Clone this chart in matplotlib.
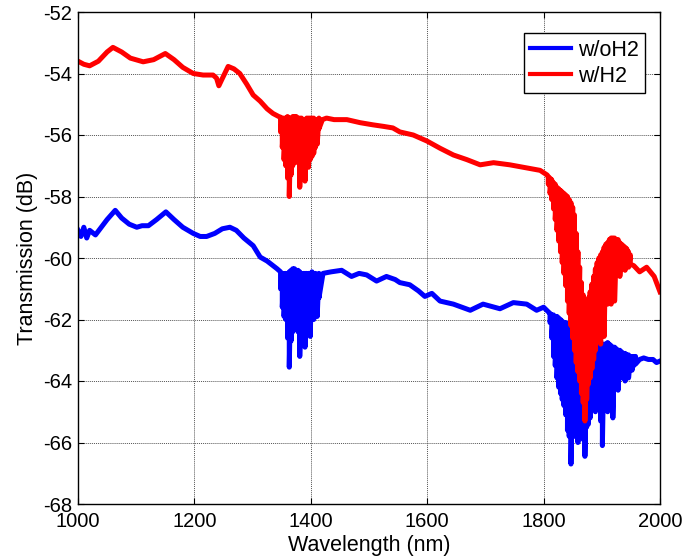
"""Transmission spectra with / without H2 loading."""

import matplotlib

matplotlib.use("Agg")
import matplotlib.pyplot as plt
import numpy as np

plt.rcParams["font.family"] = ["Liberation Sans", "DejaVu Sans"]
plt.rcParams["axes.unicode_minus"] = False

# --- w/oH2 (blue): smooth parts of the trace ---
blue_wl = [1000, 1005, 1010, 1015, 1020, 1030, 1040, 1050, 1064, 1075, 1088, 1101,
           1110, 1121, 1135, 1151, 1165, 1180, 1198, 1210, 1221, 1235, 1248, 1261,
           1272, 1285, 1301, 1313, 1325, 1342,
           1421, 1435, 1453, 1470, 1483, 1496, 1513, 1530, 1545, 1553, 1570, 1585,
           1596, 1608, 1622, 1645, 1674, 1696, 1725, 1748, 1771, 1788, 1800, 1808,
           1965, 1972, 1980, 1988, 1994, 2000]
blue_db = [-59.1, -59.3, -59.0, -59.35, -59.1, -59.25, -59.0, -58.75, -58.45, -58.7, -58.9, -59.0,
           -58.95, -58.95, -58.75, -58.5, -58.75, -59.0, -59.2, -59.3, -59.3, -59.2, -59.05, -59.0,
           -59.1, -59.35, -59.6, -59.97, -60.1, -60.35,
           -60.5, -60.45, -60.4, -60.6, -60.5, -60.55, -60.75, -60.6, -60.7, -60.8, -60.87, -61.07,
           -61.25, -61.15, -61.4, -61.5, -61.7, -61.5, -61.65, -61.45, -61.5, -61.7, -61.6, -61.75,
           -63.3, -63.25, -63.3, -63.3, -63.4, -63.35]

# blue absorption band near 1380 nm: wavelength, top and bottom of the oscillation
blue_band1_wl = [1348, 1351, 1354, 1357, 1360, 1363, 1366, 1369, 1372, 1375, 1378, 1381,
                 1384, 1387, 1390, 1393, 1396, 1399, 1402, 1405, 1408, 1411, 1414]
blue_band1_top = [-60.45, -60.5, -60.5, -60.5, -60.5, -60.45, -60.4, -60.35, -60.35, -60.4,
                  -60.4, -60.45, -60.5, -60.5, -60.5, -60.5, -60.5, -60.5, -60.45, -60.5,
                  -60.5, -60.55, -60.5]
blue_band1_bot = [-61.0, -61.6, -61.9, -62.0, -62.6, -63.55, -62.7, -62.4, -62.3, -62.1,
                  -62.4, -63.2, -62.1, -62.2, -62.9, -62.0, -62.3, -62.55, -61.95, -62.0,
                  -61.9, -61.9, -61.3]

# blue absorption band near 1870 nm
blue_band2_wl = [1811, 1814, 1817, 1820, 1823, 1826, 1829, 1832, 1835, 1838, 1841, 1844,
                 1847, 1850, 1853, 1856, 1859, 1862, 1865, 1868, 1871, 1874, 1877, 1880,
                 1883, 1886, 1889, 1892, 1895, 1898, 1901, 1904, 1907, 1910, 1913, 1916,
                 1919, 1922, 1925, 1928, 1931, 1934, 1937, 1940, 1943, 1946, 1949, 1952,
                 1955, 1958]
blue_band2_top = [-61.8, -61.85, -61.85, -61.9, -61.9, -61.95, -62.0, -62.05, -62.1, -62.1,
                  -62.15, -62.2, -62.2, -62.25, -62.3, -62.35, -62.4, -62.45, -62.5, -62.6,
                  -62.6, -62.65, -62.7, -62.75, -62.75, -62.8, -62.8, -62.8, -62.8, -62.8,
                  -62.8, -62.8, -62.8, -62.75, -62.8, -62.85, -62.9, -62.9, -62.95, -63.0,
                  -63.0, -63.05, -63.1, -63.1, -63.15, -63.15, -63.2, -63.2, -63.2, -63.2]
blue_band2_bot = [-62.1, -62.6, -63.2, -63.5, -63.9, -64.2, -64.4, -64.6, -64.8, -65.1,
                  -65.6, -65.8, -66.7, -65.6, -65.8, -65.7, -66.0, -65.5, -65.6, -65.9,
                  -66.45, -65.5, -65.4, -65.2, -64.6, -64.9, -65.0, -64.5, -64.8, -65.3,
                  -66.1, -64.6, -64.9, -65.0, -64.3, -64.7, -65.2, -64.2, -64.1, -64.3,
                  -63.9, -63.9, -63.7, -64.0, -63.6, -63.9, -63.6, -63.65, -63.5, -63.45]

# --- w/H2 (red): smooth parts of the trace ---
red_wl = [1000, 1010, 1020, 1035, 1050, 1060, 1075, 1090, 1112, 1130, 1150, 1165,
          1180, 1198, 1215, 1232, 1238, 1242, 1247, 1258, 1268, 1278, 1290, 1301,
          1313, 1325, 1335, 1345,
          1420, 1427, 1440, 1462, 1485, 1507, 1525, 1541, 1553, 1576, 1600, 1622,
          1645, 1668, 1691, 1714, 1742, 1771, 1794, 1806,
          1955, 1965, 1977, 1990, 2000]
red_db = [-53.6, -53.7, -53.75, -53.6, -53.3, -53.15, -53.3, -53.5, -53.62, -53.55, -53.35, -53.55,
          -53.8, -54.0, -54.05, -54.05, -54.15, -54.4, -54.2, -53.77, -53.85, -54.0, -54.35, -54.7,
          -54.9, -55.15, -55.3, -55.4,
          -55.5, -55.45, -55.5, -55.5, -55.6, -55.67, -55.72, -55.77, -55.9, -56.0, -56.2, -56.43,
          -56.65, -56.8, -56.97, -56.9, -56.97, -57.07, -57.15, -57.3,
          -60.25, -60.45, -60.3, -60.6, -61.1]

# red absorption band near 1380 nm
red_band1_wl = [1348, 1351, 1354, 1357, 1360, 1363, 1366, 1369, 1372, 1375, 1378, 1381,
                1384, 1387, 1390, 1393, 1396, 1399, 1402, 1405, 1408, 1411, 1414]
red_band1_top = [-55.42, -55.45, -55.45, -55.45, -55.4, -55.45, -55.45, -55.4, -55.4, -55.4,
                 -55.45, -55.45, -55.45, -55.5, -55.5, -55.45, -55.45, -55.45, -55.45, -55.45,
                 -55.5, -55.5, -55.45]
red_band1_bot = [-55.9, -56.4, -56.8, -57.0, -57.4, -58.0, -57.3, -57.0, -56.9, -56.8,
                 -56.9, -57.7, -56.9, -57.0, -57.5, -56.9, -57.05, -56.8, -56.7, -56.6,
                 -56.4, -56.3, -55.8]

# red absorption band near 1870 nm
red_band2_wl = [1808, 1811, 1814, 1817, 1820, 1823, 1826, 1829, 1832, 1835, 1838, 1841,
                1844, 1847, 1850, 1853, 1856, 1859, 1862, 1865, 1868, 1871, 1874, 1877,
                1880, 1883, 1886, 1889, 1892, 1895, 1898, 1901, 1904, 1907, 1910, 1913,
                1916, 1919, 1922, 1925, 1928, 1931, 1934, 1937, 1940, 1943, 1946, 1949]
red_band2_top = [-57.35, -57.4, -57.45, -57.55, -57.6, -57.7, -57.75, -57.8, -57.85, -57.9,
                 -57.95, -58.0, -58.1, -58.2, -58.35, -58.6, -59.2, -59.8, -60.3, -60.8,
                 -61.2, -61.45, -61.5, -61.3, -61.1, -60.85, -60.6, -60.35, -60.15, -60.0,
                 -59.9, -59.8, -59.65, -59.55, -59.5, -59.4, -59.35, -59.35, -59.35, -59.4,
                 -59.4, -59.5, -59.55, -59.6, -59.65, -59.7, -59.8, -59.9]
red_band2_bot = [-57.6, -57.9, -58.1, -58.4, -58.75, -59.1, -59.45, -59.8, -60.15, -60.5,
                 -60.9, -61.4, -61.8, -62.2, -62.6, -63.0, -63.4, -63.7, -64.0, -64.4,
                 -64.7, -65.3, -64.6, -64.1, -63.9, -63.6, -63.3, -63.0, -62.5, -61.9,
                 -62.8, -61.7, -62.55, -61.3, -61.5, -60.9, -61.5, -60.6, -61.4, -60.4,
                 -60.3, -60.6, -60.3, -60.1, -60.4, -60.2, -60.3, -60.2]

x_ticks = [1000, 1200, 1400, 1600, 1800, 2000]
y_ticks = [-68, -66, -64, -62, -60, -58, -56, -54, -52]


def trace(base_wl, base_db, bands):
    """Merge smooth points and band strokes (top then bottom) into one line."""
    xs = list(base_wl)
    ys = list(base_db)
    for wl, top, bot in bands:
        for w, t, b in zip(wl, top, bot):
            xs += [w, w]
            ys += [t, b]
    order = np.argsort(xs, kind="stable")
    return np.asarray(xs)[order], np.asarray(ys)[order]


blue_x, blue_y = trace(blue_wl, blue_db, [(blue_band1_wl, blue_band1_top, blue_band1_bot),
                                          (blue_band2_wl, blue_band2_top, blue_band2_bot)])
red_x, red_y = trace(red_wl, red_db, [(red_band1_wl, red_band1_top, red_band1_bot),
                                      (red_band2_wl, red_band2_top, red_band2_bot)])

fig = plt.figure(figsize=(6.86, 5.56), dpi=100)
ax = fig.add_axes([78 / 686, 52 / 556, 582 / 686, 492 / 556])

ax.plot(blue_x, blue_y, color="#0000ff", lw=3.6, label="w/oH2")
ax.plot(red_x, red_y, color="#ff0000", lw=3.6, label="w/H2")

ax.set_xlim(1000, 2000)
ax.set_ylim(-68, -52)
ax.set_xticks(x_ticks)
ax.set_yticks(y_ticks)
ax.grid(True, color="#555555", linestyle=(0, (1, 1)), linewidth=0.7)
ax.set_axisbelow(True)
ax.tick_params(direction="in", top=True, right=True, length=4, width=0.8,
               labelsize=14.5)
ax.tick_params(axis="x", pad=6)
ax.tick_params(axis="y", pad=4)
for sp in ax.spines.values():
    sp.set_linewidth(1.0)
    sp.set_color("black")

ax.set_xlabel("Wavelength (nm)", fontsize=15.5, labelpad=3)
ax.set_ylabel("Transmission (dB)", fontsize=15.5, labelpad=4)

leg = ax.legend(loc="upper right", bbox_to_anchor=(0.974, 0.957), borderaxespad=0,
                fancybox=False, edgecolor="black", framealpha=1, fontsize=15.5,
                handlelength=1.9, handletextpad=0.3, borderpad=0.3, labelspacing=0.25)
leg.get_frame().set_linewidth(1.0)
for line in leg.get_lines():
    line.set_linewidth(3.0)

fig.savefig("out.png", dpi=100)
